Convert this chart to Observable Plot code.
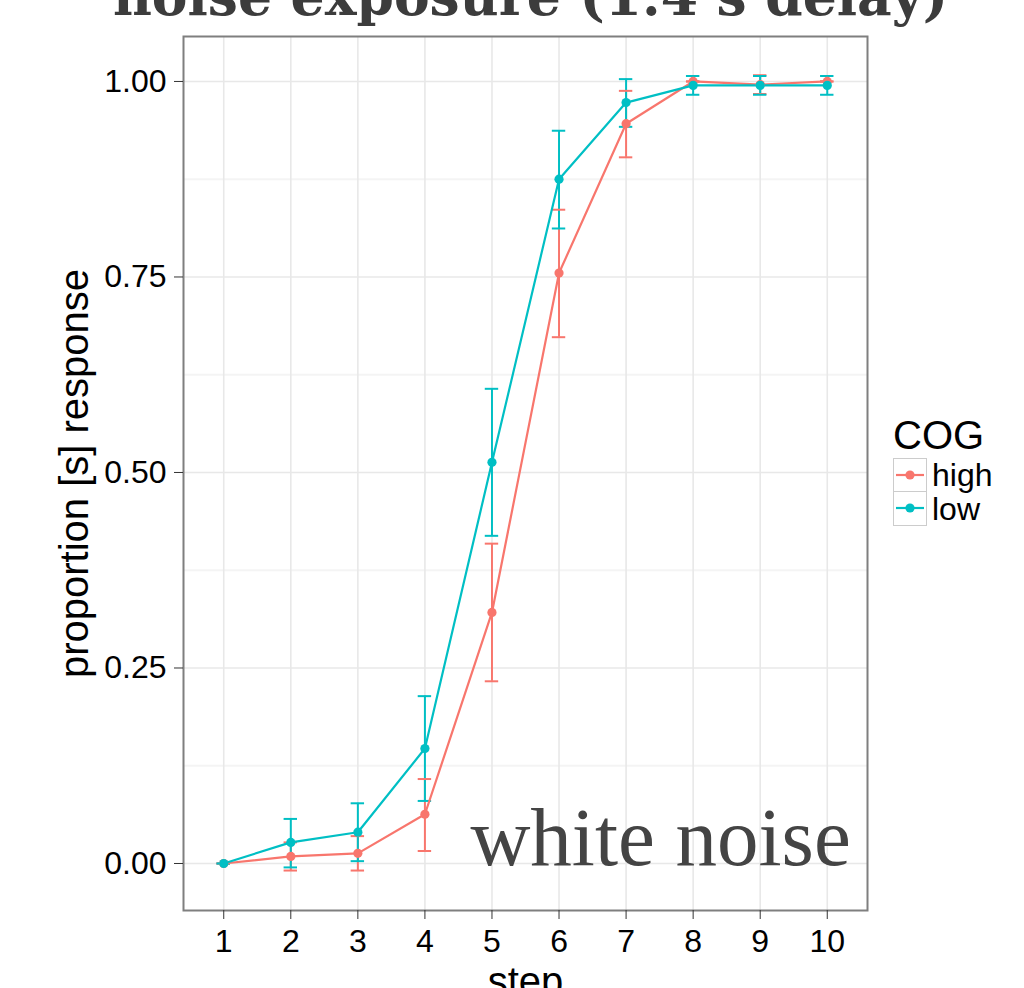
<!DOCTYPE html>
<html>
<head>
<meta charset="utf-8">
<script src="https://cdn.jsdelivr.net/npm/d3@7"></script>
<script src="https://cdn.jsdelivr.net/npm/@observablehq/plot@0.6"></script>
<style>
  html, body { margin: 0; padding: 0; background: #fff; }
  #wrap { position: relative; width: 1024px; height: 988px; overflow: hidden; font-family: "Liberation Sans", Arial, Helvetica, sans-serif; }
  #chart { position: absolute; left: 0; top: 0; }
  #legend { position: absolute; left: 893px; top: 412px; color: #000; }
  #legend .ttl { font-size: 40px; line-height: 46px; height: 46px; }
  #legend .row { display: flex; align-items: center; height: 34px; }
  #legend .key { width: 32px; height: 32px; border: 1.5px solid #cccccc; background: #fff; margin-right: 5px; }
  #legend .row + .row .key { border-top: none; height: 33px; }
  #legend .lab { font-size: 32px; line-height: 34px; }
</style>
</head>
<body>
<div id="wrap">
  <div id="chart"></div>
  <div id="legend"></div>
</div>
<script>
// ---- data ----
const steps = [1, 2, 3, 4, 5, 6, 7, 8, 9, 10];
const groups = ["high", "low"];
const groupColors = ["#F8766D", "#00BFC4"];

const highMean = [0, 0.009, 0.013, 0.063, 0.321, 0.755, 0.946, 1.000, 0.996, 1.000];
const highLo   = [0, -0.009, -0.009, 0.016, 0.233, 0.673, 0.903, 1.000, 0.984, 1.000];
const highHi   = [0, 0.027, 0.035, 0.108, 0.409, 0.836, 0.988, 1.000, 1.008, 1.000];

const lowMean  = [0, 0.027, 0.040, 0.147, 0.513, 0.875, 0.973, 0.995, 0.995, 0.995];
const lowLo    = [0, -0.005, 0.003, 0.080, 0.419, 0.812, 0.942, 0.983, 0.983, 0.983];
const lowHi    = [0, 0.057, 0.077, 0.214, 0.607, 0.937, 1.003, 1.007, 1.007, 1.007];

const yTicks = [0, 0.25, 0.5, 0.75, 1.0];
const yMinor = [0.125, 0.375, 0.625, 0.875];
const titleText = "noise exposure (1.4 s delay)";
const xLabel = "step";
const yLabel = "proportion [s] response";
const legendTitle = "COG";
const annotation = [{label: "white noise", step: 10.35, value: 0}];

// ---- table ----
const rows = [];
steps.forEach((s, i) => {
  rows.push({group: "high", step: s, mean: highMean[i], lo: highLo[i], hi: highHi[i]});
});
steps.forEach((s, i) => {
  rows.push({group: "low", step: s, mean: lowMean[i], lo: lowLo[i], hi: lowHi[i]});
});
const capHalf = 0.1;

const chart = Plot.plot({
  width: 1024,
  height: 988,
  marginLeft: 183,
  marginRight: 157,
  marginTop: 36,
  marginBottom: 78,
  style: {fontFamily: '"Liberation Sans", Arial, Helvetica, sans-serif', background: "#fff", overflow: "visible"},
  x: {type: "linear", domain: [0.4, 10.6]},
  y: {domain: [-0.0601, 1.0575]},
  color: {domain: groups, range: groupColors},
  marks: [
    Plot.ruleY(yMinor, {stroke: "#f4f4f4", strokeWidth: 2}),
    Plot.ruleY(yTicks, {stroke: "#e8e8e8", strokeWidth: 1.6}),
    Plot.ruleX(steps, {stroke: "#e8e8e8", strokeWidth: 1.6}),
    Plot.ruleX(rows, {x: "step", y1: "lo", y2: "hi", stroke: "group", strokeWidth: 2}),
    Plot.ruleY(rows, {y: "hi", x1: d => d.step - capHalf, x2: d => d.step + capHalf, stroke: "group", strokeWidth: 2}),
    Plot.ruleY(rows, {y: "lo", x1: d => d.step - capHalf, x2: d => d.step + capHalf, stroke: "group", strokeWidth: 2}),
    Plot.line(rows, {x: "step", y: "mean", z: "group", stroke: "group", strokeWidth: 2.2}),
    Plot.dot(rows, {x: "step", y: "mean", fill: "group", r: 4.6, stroke: "none"}),
    Plot.text(annotation, {x: "step", y: "value", text: "label", textAnchor: "end", lineAnchor: "bottom", dy: 2,
      fontFamily: '"Liberation Serif", "Times New Roman", serif', fontSize: 83, fill: "#444444"}),
    Plot.frame({stroke: "#7f7f7f", strokeWidth: 2}),
    Plot.axisY(yTicks, {tickFormat: d3.format(".2f"), tickSize: 9, tickPadding: 8, fontSize: 32, label: null, stroke: "#333", fill: "#000"}),
    Plot.axisX(steps, {tickFormat: d3.format("d"), tickSize: 9, tickPadding: 10, fontSize: 32, label: null, stroke: "#333", fill: "#000"}),
    Plot.text([yLabel], {frameAnchor: "left", textAnchor: "middle", dx: -108, rotate: -90, fontSize: 40, fill: "#000", text: d => d}),
    Plot.text([xLabel], {frameAnchor: "bottom", dy: 84, lineAnchor: "bottom", fontSize: 40, fill: "#000", text: d => d}),
    Plot.text([titleText], {frameAnchor: "top", dx: 5, dy: -22, lineAnchor: "bottom", fontSize: 53.5, fontWeight: "bold",
      fontFamily: '"DejaVu Serif", serif', fill: "#3c3c3c", text: d => d})
  ]
});
document.getElementById("chart").appendChild(chart);

// ---- legend ----
const legend = document.getElementById("legend");
const t = document.createElement("div");
t.className = "ttl";
t.textContent = legendTitle;
legend.appendChild(t);
groups.forEach((g, i) => {
  const row = document.createElement("div");
  row.className = "row";
  const key = document.createElement("div");
  key.className = "key";
  key.innerHTML = `<svg width="32" height="32"><line x1="2" x2="30" y1="16" y2="16" stroke="${groupColors[i]}" stroke-width="2.2"/><circle cx="16" cy="16" r="4.6" fill="${groupColors[i]}"/></svg>`;
  const lab = document.createElement("div");
  lab.className = "lab";
  lab.textContent = g;
  row.appendChild(key);
  row.appendChild(lab);
  legend.appendChild(row);
});
</script>
</body>
</html>
